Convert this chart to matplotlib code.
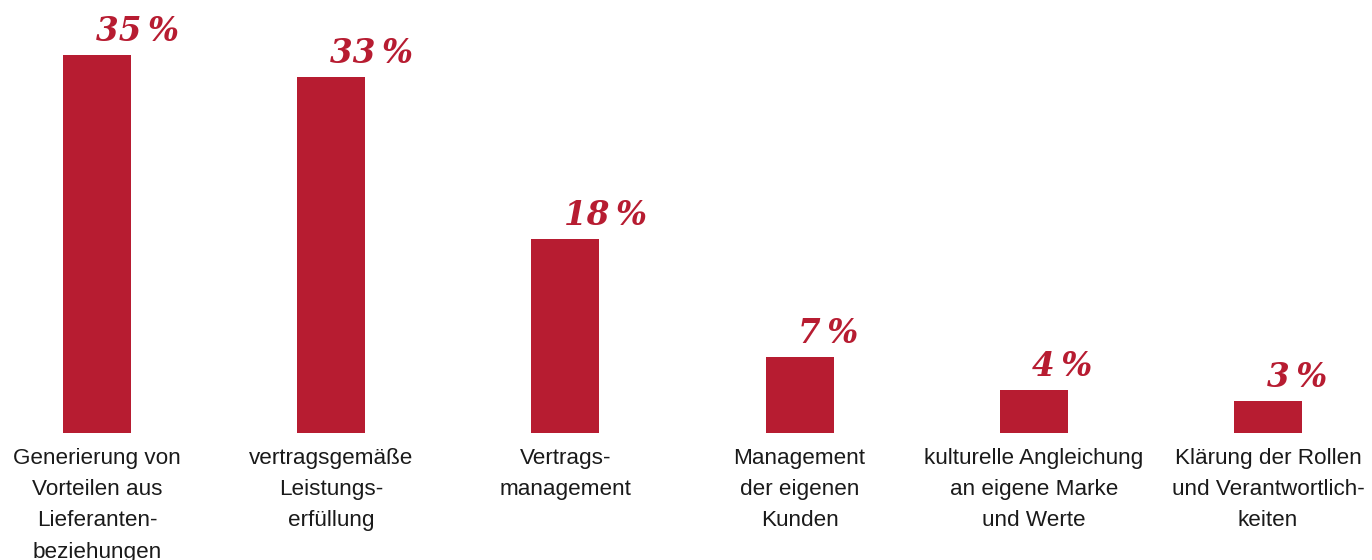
import matplotlib
matplotlib.use("Agg")
import matplotlib.pyplot as plt

categories = [
    "Generierung von\nVorteilen aus\nLieferanten-\nbeziehungen",
    "vertragsgemäße\nLeistungs-\nerfüllung",
    "Vertrags-\nmanagement",
    "Management\nder eigenen\nKunden",
    "kulturelle Angleichung\nan eigene Marke\nund Werte",
    "Klärung der Rollen\nund Verantwortlich-\nkeiten",
]
values = [35, 33, 18, 7, 4, 3]

RED = "#B71C31"
W, H, DPI = 1372, 560, 100
fig = plt.figure(figsize=(W / DPI, H / DPI), dpi=DPI)
base_px = 433
ax = fig.add_axes([0, (H - base_px) / H, 1, base_px / H])
spacing = 234.2
x0 = 97
ax.set_xlim(-x0 / spacing, (len(values) - 1) + (W - (x0 + spacing * (len(values) - 1))) / spacing)
ax.set_ylim(0, base_px / 10.8)
ax.axis("off")

xs = list(range(len(values)))
ax.bar(xs, values, width=68 / spacing, color=RED)

for x, v, c in zip(xs, values, categories):
    ax.annotate(f"{v}\u2009%", (x, v), xytext=(-1, 5), textcoords="offset points",
                ha="left", va="bottom", fontsize=23.5, color=RED,
                family="DejaVu Serif", fontweight="bold", fontstyle="italic")
    ax.annotate(c, (x, 0), xytext=(0, -11), textcoords="offset points",
                ha="center", va="top", fontsize=16.2, color="#1a1a1a",
                family="Liberation Sans", linespacing=1.63, annotation_clip=False)

fig.savefig("out.png", dpi=DPI)
